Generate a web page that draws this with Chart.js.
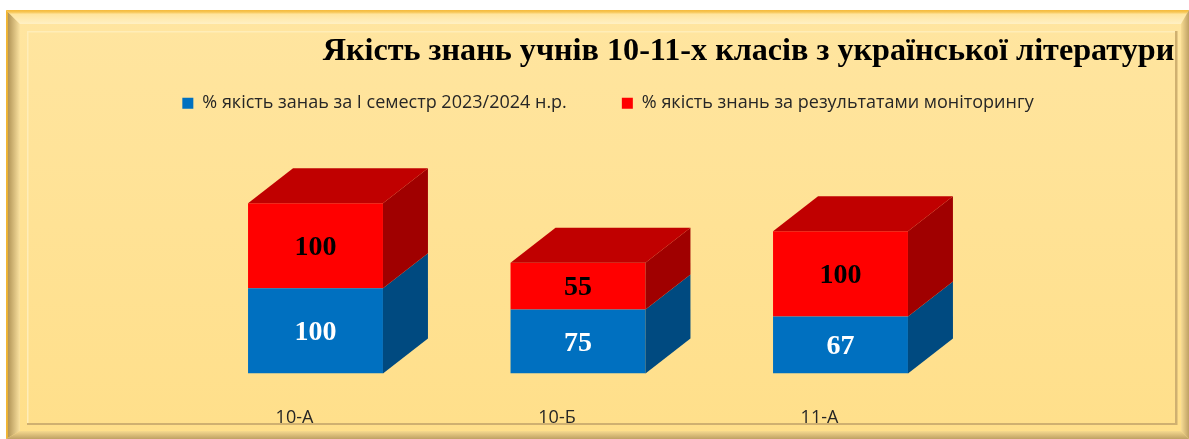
<!DOCTYPE html>
<html lang="uk"><head><meta charset="utf-8">
<style>html,body{margin:0;padding:0;background:#fff;overflow:hidden}canvas{display:block}</style>
<script src="https://cdn.jsdelivr.net/npm/chart.js@4/dist/chart.umd.min.js"></script>
</head><body><canvas id="c" width="1189" height="439"></canvas>
<script>
const titleText = 'Якість знань учнів 10-11-х класів з української літератури';
const categories = ['10-А', '10-Б', '11-А'];
const seriesNames = ['% якість занаь за І семестр 2023/2024 н.р.', '% якість знань за результатами моніторингу'];
const semesterValues = [100, 75, 67];
const monitoringValues = [100, 55, 100];

const COL = {
  blue: {front: '#0070C0', side: '#004A80'},
  red: {front: '#FF0000', side: '#A00000', top: '#C00000'}
};
const DX = 45, DY = 35;

function poly(ctx, pts, fill) {
  ctx.beginPath(); pts.forEach((p, i) => i ? ctx.lineTo(p[0], p[1]) : ctx.moveTo(p[0], p[1]));
  ctx.closePath(); ctx.fillStyle = fill; ctx.fill();
}
const framePlugin = {
  id: 'frame',
  beforeDraw(chart) {
    const c = chart.ctx, X = 6, Y = 10, W = 1189, H = 439, ix = 27, iy = 31, iR = 1175, iB = 423;
    c.save();
    c.fillStyle = '#fff'; c.fillRect(0, 0, 1189, 439);
    const g = c.createLinearGradient(0, Y, 0, H);
    g.addColorStop(0, '#FFE5A0'); g.addColorStop(1, '#FFDF8A');
    c.fillStyle = g; c.fillRect(X, Y, W - X, H - Y);
    // outer bevel: left, top, right, bottom
    const lg = c.createLinearGradient(X, 0, X + 14, 0);
    lg.addColorStop(0, '#F2B634'); lg.addColorStop(0.1, '#F2B634'); lg.addColorStop(0.16, '#B39658'); lg.addColorStop(1, '#FBE2A0');
    poly(c, [[X, Y], [X + 14, Y + 14], [X + 14, H - 8], [X, H]], lg);
    const tg = c.createLinearGradient(0, Y, 0, Y + 14);
    tg.addColorStop(0, '#F5BA3A'); tg.addColorStop(0.15, '#F7C655'); tg.addColorStop(0.3, '#FFE59E'); tg.addColorStop(1, '#FFF0C4');
    poly(c, [[X, Y], [W, Y], [W - 8, Y + 14], [X + 14, Y + 14]], tg);
    const rg = c.createLinearGradient(W - 8, 0, W, 0);
    rg.addColorStop(0, '#F8DC94'); rg.addColorStop(1, '#BFA164');
    poly(c, [[W, Y], [W, H], [W - 8, H - 8], [W - 8, Y + 14]], rg);
    const bg = c.createLinearGradient(0, H - 8, 0, H);
    bg.addColorStop(0, '#F6D98E'); bg.addColorStop(1, '#BFA164');
    poly(c, [[X, H], [W, H], [W - 8, H - 8], [X + 14, H - 8]], bg);
    // inner groove
    c.fillStyle = '#FFEDB8'; c.fillRect(ix, iy, iR - ix, 1.5);
    c.fillStyle = '#FFEDB8'; c.fillRect(ix, iy, 1.5, iB - iy);
    c.fillStyle = '#CFB070'; c.fillRect(iR, iy, 2.5, iB - iy + 2);
    c.fillStyle = '#CFB070'; c.fillRect(ix, iB, iR - ix + 1, 2);
    c.restore();
  },
  afterLayout(chart) {
    const t = chart.titleBlock, l = chart.legend;
    t.left += 154; t.right += 154;
    l.left += 27; l.top -= 40;
  }
};
const cubePlugin = {
  id: 'cube',
  afterDatasetsDraw(chart) {
    const c = chart.ctx;
    c.save();
    chart.getSortedVisibleDatasetMetas().forEach((meta, di) => {
      const col = di === 0 ? COL.blue : COL.red;
      meta.data.forEach(b => {
        const p = b.getProps(['x', 'y', 'base', 'width']);
        const L = p.x - p.width / 2, R = p.x + p.width / 2;
        poly(c, [[R, p.y], [R + DX, p.y - DY], [R + DX, p.base - DY], [R, p.base]], col.side);
        if (col.top) poly(c, [[L, p.y], [R, p.y], [R + DX, p.y - DY], [L + DX, p.y - DY]], col.top);
      });
    });
    c.textAlign = 'center'; c.textBaseline = 'middle';
    c.font = 'bold 28px "Liberation Serif"';
    chart.getSortedVisibleDatasetMetas().forEach((meta, di) => {
      const vals = chart.data.datasets[di].data;
      c.fillStyle = di === 0 ? '#FFFFFF' : '#000000';
      meta.data.forEach((b, i) => {
        const p = b.getProps(['x', 'y', 'base']);
        c.fillText(String(vals[i]), p.x, (p.y + p.base) / 2 + 2);
      });
    });
    c.restore();
  }
};
new Chart(document.getElementById('c'), {
  type: 'bar',
  data: {
    labels: categories,
    datasets: [
      {label: seriesNames[0], data: semesterValues, backgroundColor: COL.blue.front, stack: 's'},
      {label: seriesNames[1], data: monitoringValues, backgroundColor: COL.red.front, stack: 's'}
    ]
  },
  plugins: [framePlugin, cubePlugin],
  options: {
    responsive: false, animation: false,
    layout: {padding: 0},
    categoryPercentage: 1, barPercentage: 0.514,
    plugins: {
      tooltip: {enabled: false},
      title: {display: true, text: titleText, color: '#000',
        font: {family: '"Liberation Serif"', size: 32.2, weight: 'bold'},
        padding: {top: 32, bottom: 8.6}},
      legend: {display: true, position: 'top',
        labels: {boxWidth: 11, boxHeight: 11, padding: 55, color: '#262626',
          font: {family: '"Open Sans"', size: 18}},
      }
    },
    scales: {
      x: {stacked: true, grid: {display: false}, border: {display: false},
        ticks: {color: '#262626', font: {family: '"Open Sans"', size: 18}, labelOffset: -21, padding: 25.5, maxRotation: 0},
        afterFit: s => { s.height = 65.5; }},
      y: {stacked: true, min: 0, max: 248, grid: {display: false}, border: {display: false},
        ticks: {display: false},
        afterFit: s => { s.width = 184.25; }},
      pad: {position: 'right', grid: {display: false}, border: {display: false}, ticks: {display: false},
        afterFit: s => { s.width = 217.25; }}
    }
  }
});
</script></body></html>
